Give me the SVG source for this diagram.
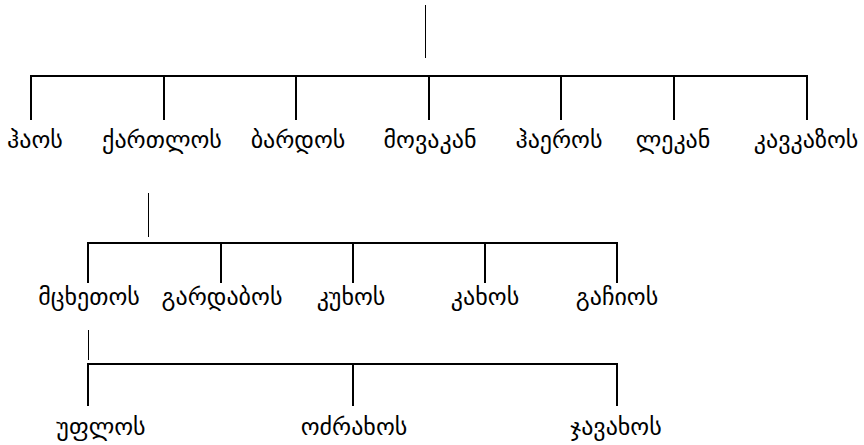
<svg xmlns="http://www.w3.org/2000/svg" width="864" height="445" viewBox="0 0 864 445">
<style>
.bg{fill:#ffffff}
.ln{stroke:#000;stroke-width:2;fill:none}
.stub{stroke:#000;stroke-width:1;fill:none}
.lbl{font-family:"DejaVu Sans","Noto Sans",sans-serif;font-size:24px;fill:#000;text-anchor:middle}
</style>
<rect class="bg" x="0" y="0" width="864" height="445"/>
<g id="connectors">
<line class="stub" x1="425.5" y1="5" x2="425.5" y2="58"/>
<path class="ln" d="M31,120 V76 H807 V120 M164,76 V120 M296,76 V120 M429,76 V120 M561,76 V120 M674,76 V120"/>
<line class="stub" x1="148.5" y1="193" x2="148.5" y2="237"/>
<path class="ln" d="M88,283 V243 H617 V283 M221,243 V283 M353,243 V283 M485,243 V283"/>
<line class="stub" x1="88.5" y1="330" x2="88.5" y2="360"/>
<path class="ln" d="M88,406 V364 H617 V406 M353,364 V406"/>
</g>
<g id="n-jaos"><text class="lbl" x="35" y="148">ჰაოს</text></g>
<g id="n-kartlos"><text class="lbl" x="162" y="148">ქართლოს</text></g>
<g id="n-bardos"><text class="lbl" x="298" y="148">ბარდოს</text></g>
<g id="n-movakan"><text class="lbl" x="430" y="148">მოვაკან</text></g>
<g id="n-haeros"><text class="lbl" x="559" y="148">ჰაეროს</text></g>
<g id="n-lekan"><text class="lbl" x="673" y="148">ლეკან</text></g>
<g id="n-kavkasos"><text class="lbl" x="806" y="148">კავკაზოს</text></g>
<g id="n-mtskhetos"><text class="lbl" x="89" y="305">მცხეთოს</text></g>
<g id="n-gardabos"><text class="lbl" x="222" y="305">გარდაბოს</text></g>
<g id="n-kukhos"><text class="lbl" x="351" y="305">კუხოს</text></g>
<g id="n-kakhos"><text class="lbl" x="485" y="305">კახოს</text></g>
<g id="n-gachios"><text class="lbl" x="617" y="305">გაჩიოს</text></g>
<g id="n-uplos"><text class="lbl" x="101" y="435">უფლოს</text></g>
<g id="n-odzrakhos"><text class="lbl" x="354" y="435">ოძრახოს</text></g>
<g id="n-javakhos"><text class="lbl" x="616" y="435">ჯავახოს</text></g>
</svg>
